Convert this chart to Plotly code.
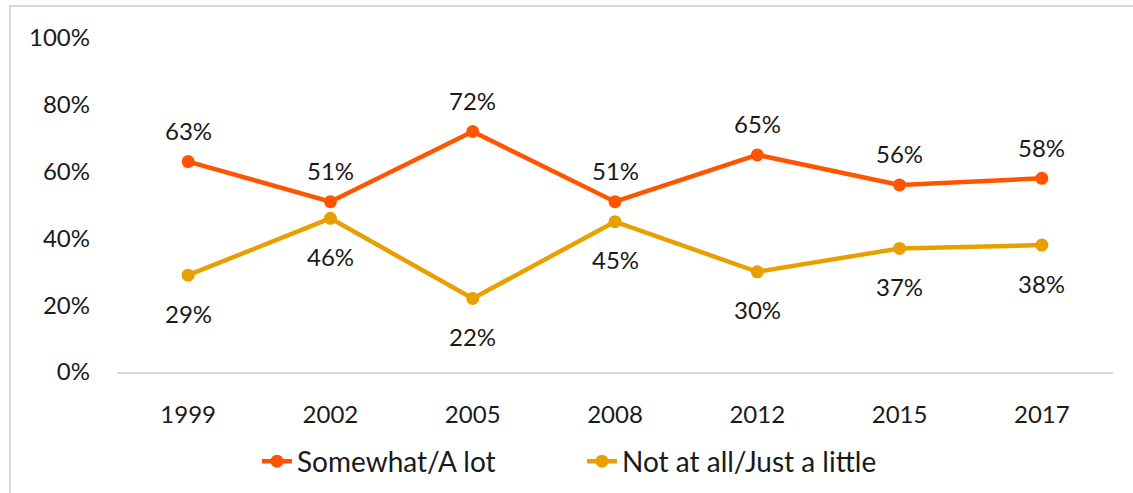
import plotly.graph_objects as go

years = ["1999", "2002", "2005", "2008", "2012", "2015", "2017"]
somewhat_a_lot = [63, 51, 72, 51, 65, 56, 58]
not_at_all = [29, 46, 22, 45, 30, 37, 38]
y_ticks = [0, 20, 40, 60, 80, 100]

ORANGE = "#FF5500"
GOLD = "#E8A000"
FONT = "Lato, 'Open Sans', sans-serif"
FS = 24

fig = go.Figure()
for name, vals, color in [("Somewhat/A lot", somewhat_a_lot, ORANGE),
                          ("Not at all/Just a little", not_at_all, GOLD)]:
    fig.add_trace(go.Scatter(
        x=years, y=vals, name=name, mode="lines+markers",
        line=dict(color=color, width=4.5),
        marker=dict(color=color, size=13),
        cliponaxis=False,
    ))

# value labels: above the upper series, below the lower one
for vals, shift in [(somewhat_a_lot, 31), (not_at_all, -38)]:
    for i, v in enumerate(vals):
        fig.add_annotation(x=i, y=v, xref="x", yref="y", text=f"{v}%", showarrow=False,
                           yshift=shift, font=dict(size=FS, color="#1a1a1a", family=FONT))

# outer frame of the chart area
fig.add_shape(type="rect", xref="paper", yref="paper",
              x0=(10 - 117) / 996, x1=1.2, y0=-0.5, y1=(372 - 6) / 334,
              line=dict(color="#D9D9D9", width=2), fillcolor="rgba(0,0,0,0)",
              layer="below")

fig.update_layout(
    width=1133, height=493,
    margin=dict(l=117, r=20, t=38, b=121, autoexpand=False),
    paper_bgcolor="white", plot_bgcolor="white",
    font=dict(family=FONT, size=FS, color="#1a1a1a"),
    showlegend=True,
    legend=dict(orientation="h", x=(257 - 117) / 996, xanchor="left",
                y=-0.268, yanchor="middle",
                font=dict(size=28), tracegroupgap=0,
                entrywidth=280, entrywidthmode="pixels"),
    xaxis=dict(type="category", range=[-0.5, 6.5], showgrid=False, zeroline=False,
               showline=True, linecolor="#D9D9D9", linewidth=2,
               ticks="", ticklabelstandoff=20, tickfont=dict(size=FS)),
    yaxis=dict(range=[0, 100], tickvals=y_ticks, ticktext=[f"{v}%" for v in y_ticks],
               showgrid=False, zeroline=False, showline=False,
               ticks="", ticklabelstandoff=26, tickfont=dict(size=FS)),
)

fig.write_html("out.html")
